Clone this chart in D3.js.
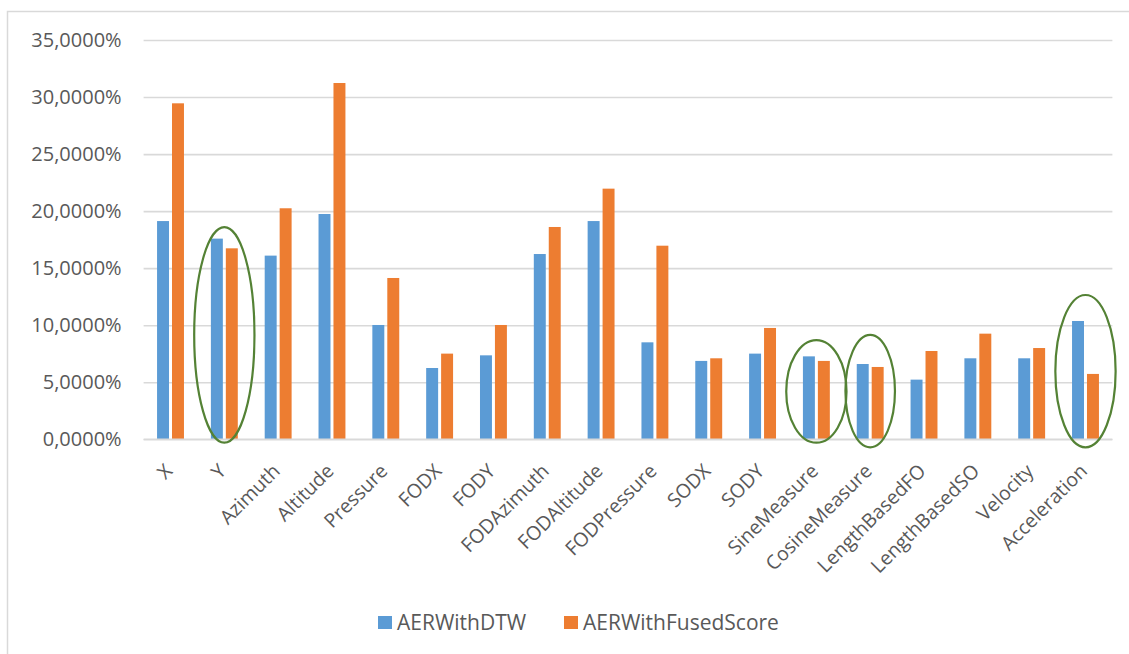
<!DOCTYPE html>
<html>
<head>
<meta charset="utf-8">
<script src="https://cdn.jsdelivr.net/npm/d3@7"></script>
<style>
  html, body { margin: 0; padding: 0; background: #fff; }
  svg { display: block; font-family: "Open Sans", Lato, sans-serif; }
</style>
</head>
<body>
<svg id="chart" width="1129" height="654"></svg>
<script>
// Feature names on the category axis
const categories = ["X", "Y", "Azimuth", "Altitude", "Pressure", "FODX", "FODY",
  "FODAzimuth", "FODAltitude", "FODPressure", "SODX", "SODY", "SineMeasure",
  "CosineMeasure", "LengthBasedFO", "LengthBasedSO", "Velocity", "Acceleration"];

// Series names
const seriesNames = ["AERWithDTW", "AERWithFusedScore"];

// Error rates, in percent
const aerWithDTW = [19.13, 17.59, 16.10, 19.75, 10.02, 6.25, 7.36,
  16.24, 19.13, 8.50, 6.87, 7.51, 7.27,
  6.60, 5.23, 7.10, 7.10, 10.37];
const aerWithFusedScore = [29.45, 16.74, 20.25, 31.23, 14.14, 7.51, 10.02,
  18.61, 21.97, 16.97, 7.10, 9.76, 6.87,
  6.34, 7.74, 9.26, 8.00, 5.73];

// Value axis ticks, in percent
const yTicks = [0, 5, 10, 15, 20, 25, 30, 35];

// Features circled because the fused score did not improve on DTW (spans in percent)
const highlightCats = ["Y", "SineMeasure", "CosineMeasure", "Acceleration"];
const highlightTop = [18.6, 8.7, 9.15, 12.65];
const highlightBottom = [-0.3, -0.3, -0.7, -0.7];

const colors = { AERWithDTW: "#5B9BD5", AERWithFusedScore: "#ED7D31" };
const textColor = "#595959";
const gridColor = "#D9D9D9";
const ringColor = "#548235";

const svg = d3.select("#chart");
const W = 1129, H = 654;
const plot = { left: 143.6, right: 1112.4, top: 40, bottom: 439.3 };

// Outer chart frame (only its top and left edges fall inside the window)
svg.append("rect")
  .attr("x", 7.5).attr("y", 11.5)
  .attr("width", W + 20).attr("height", H + 20)
  .attr("fill", "#fff")
  .attr("stroke", gridColor).attr("stroke-width", 1.5);

const x0 = d3.scaleBand()
  .domain(categories)
  .range([plot.left, plot.right])
  .paddingInner(0.5).paddingOuter(0.25);

const x1 = d3.scaleBand()
  .domain(seriesNames)
  .range([0, x0.bandwidth()])
  .paddingInner(0.2);

const y = d3.scaleLinear().domain([0, 35]).range([plot.bottom, plot.top]);

const locale = d3.formatLocale({ decimal: ",", thousands: ".", grouping: [3], currency: ["", "€"] });
const fmt = locale.format(".4f");

// Horizontal gridlines and value labels
const yAxis = d3.axisLeft(y)
  .tickValues(yTicks)
  .tickSize(-(plot.right - plot.left))
  .tickPadding(22)
  .tickFormat(d => fmt(d) + "%");

const gy = svg.append("g")
  .attr("transform", `translate(${plot.left},0)`)
  .call(yAxis);
gy.select(".domain").remove();
gy.selectAll(".tick line").attr("stroke", gridColor).attr("stroke-width", 1.6);
gy.selectAll(".tick text")
  .attr("fill", textColor)
  .style("font-family", "'Open Sans', Lato, sans-serif")
  .style("font-size", "20px");

// Bars
const rows = categories.map((c, i) => ({
  cat: c,
  vals: [
    { s: seriesNames[0], v: aerWithDTW[i] },
    { s: seriesNames[1], v: aerWithFusedScore[i] }
  ]
}));

svg.append("g")
  .selectAll("g")
  .data(rows)
  .join("g")
  .attr("transform", d => `translate(${x0(d.cat)},0)`)
  .selectAll("rect")
  .data(d => d.vals)
  .join("rect")
  .attr("x", d => x1(d.s))
  .attr("width", x1.bandwidth())
  .attr("y", d => y(d.v))
  .attr("height", d => y(0) - y(d.v))
  .attr("fill", d => colors[d.s]);

// Category axis baseline
svg.append("line")
  .attr("x1", plot.left).attr("x2", plot.right)
  .attr("y1", y(0)).attr("y2", y(0))
  .attr("stroke", gridColor).attr("stroke-width", 1.6);

// Rotated category labels
svg.append("g")
  .selectAll("text")
  .data(categories)
  .join("text")
  .attr("transform", d => `translate(${x0(d) + x0.bandwidth() / 2 + 3},${y(0) + 33}) rotate(-45)`)
  .attr("text-anchor", "end")
  .attr("fill", textColor)
  .style("font-size", "19.5px")
  .text(d => d);

// Highlight rings
const ringHalfWidth = { Y: 0.56, SineMeasure: 0.56, CosineMeasure: 0.46, Acceleration: 0.56 };
svg.append("g")
  .selectAll("ellipse")
  .data(highlightCats.map((c, i) => ({ c, top: highlightTop[i], bottom: highlightBottom[i] })))
  .join("ellipse")
  .attr("cx", d => x0(d.c) + x0.bandwidth() / 2)
  .attr("cy", d => (y(d.top) + y(d.bottom)) / 2)
  .attr("rx", d => ringHalfWidth[d.c] * x0.step())
  .attr("ry", d => (y(d.bottom) - y(d.top)) / 2)
  .attr("fill", "none")
  .attr("stroke", ringColor)
  .attr("stroke-width", 2.2);

// Legend
const legendX = [378, 564];
const legend = svg.append("g")
  .selectAll("g")
  .data(seriesNames)
  .join("g")
  .attr("transform", (d, i) => `translate(${legendX[i]},616)`);
legend.append("rect")
  .attr("width", 14).attr("height", 13)
  .attr("fill", d => colors[d]);
legend.append("text")
  .attr("x", 19).attr("y", 14)
  .attr("fill", textColor)
  .style("font-size", "21px")
  .text(d => d);
</script>
</body>
</html>
